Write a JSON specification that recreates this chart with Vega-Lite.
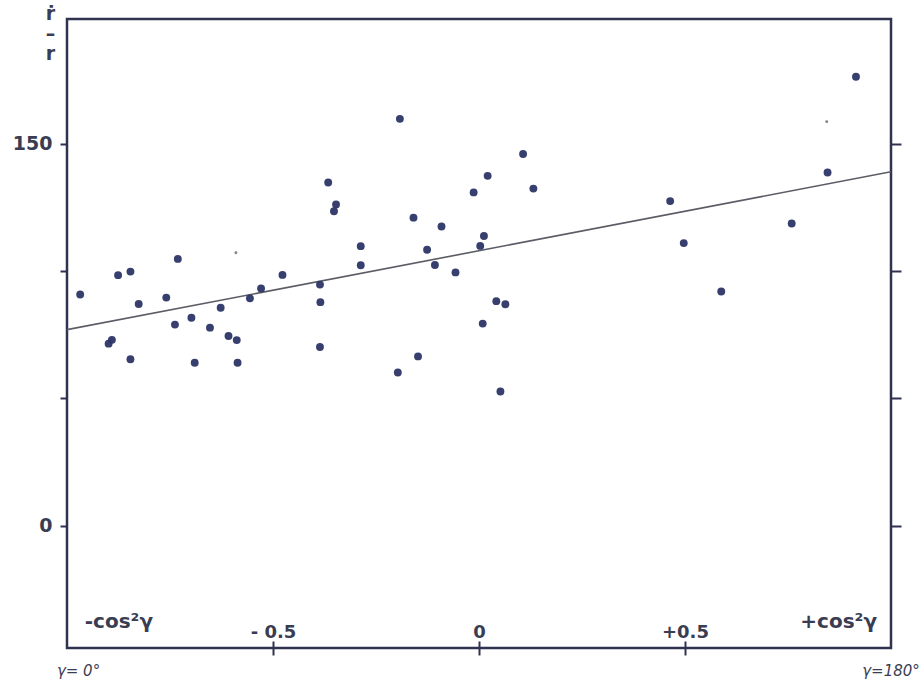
{
  "$schema": "https://vega.github.io/schema/vega-lite/v6.json",
  "width": 824,
  "height": 629,
  "autosize": "none",
  "padding": {"left": 67, "top": 19, "right": 33, "bottom": 33},
  "background": "white",
  "config": {
    "view": {"stroke": "#2f3350", "strokeWidth": 2.5},
    "font": "DejaVu Sans",
    "axis": {"grid": false, "domain": false, "tickColor": "#2f3350", "tickWidth": 2, "labelColor": "#3a3d52", "titleColor": "#3a3d52", "labelFont": "DejaVu Sans", "labelFontWeight": "bold", "labelFontSize": 18}
  },
  "datasets": {
    "fit": [
      {"x": -1, "y": 77},
      {"x": 1, "y": 139}
    ],
    "points": [
      {"x": -0.968, "y": 90.8}, {"x": -0.899, "y": 71.5}, {"x": -0.891, "y": 73.0},
      {"x": -0.876, "y": 98.4}, {"x": -0.846, "y": 99.8}, {"x": -0.846, "y": 65.4},
      {"x": -0.826, "y": 87.1}, {"x": -0.759, "y": 89.6}, {"x": -0.731, "y": 104.8},
      {"x": -0.738, "y": 79.0}, {"x": -0.698, "y": 81.7}, {"x": -0.690, "y": 64.0},
      {"x": -0.653, "y": 77.8}, {"x": -0.627, "y": 85.6}, {"x": -0.608, "y": 74.5},
      {"x": -0.588, "y": 72.9}, {"x": -0.586, "y": 64.0}, {"x": -0.556, "y": 89.3},
      {"x": -0.529, "y": 93.2}, {"x": -0.477, "y": 98.5}, {"x": -0.386, "y": 94.7},
      {"x": -0.385, "y": 87.8}, {"x": -0.386, "y": 70.2}, {"x": -0.366, "y": 134.8},
      {"x": -0.347, "y": 126.2}, {"x": -0.352, "y": 123.5}, {"x": -0.287, "y": 109.8},
      {"x": -0.287, "y": 102.3}, {"x": -0.192, "y": 159.8}, {"x": -0.197, "y": 60.2},
      {"x": -0.148, "y": 66.5}, {"x": -0.159, "y": 121.0}, {"x": -0.126, "y": 108.4},
      {"x": -0.107, "y": 102.4}, {"x": -0.091, "y": 117.5}, {"x": -0.057, "y": 99.5},
      {"x": -0.013, "y": 130.9}, {"x": 0.003, "y": 109.9}, {"x": 0.012, "y": 113.8},
      {"x": 0.021, "y": 137.4}, {"x": 0.009, "y": 79.4}, {"x": 0.042, "y": 88.2},
      {"x": 0.064, "y": 87.0}, {"x": 0.052, "y": 52.7}, {"x": 0.107, "y": 146.0},
      {"x": 0.132, "y": 132.4}, {"x": 0.464, "y": 127.5}, {"x": 0.497, "y": 111.0},
      {"x": 0.588, "y": 92.0}, {"x": 0.759, "y": 118.7}, {"x": 0.846, "y": 138.7},
      {"x": 0.915, "y": 176.3}
    ],
    "specks": [
      {"x": 0.844, "y": 158.7},
      {"x": -0.590, "y": 107.2}
    ],
    "bigNotes": [
      {"x": -0.874, "y": -40, "label": "-cos²γ"},
      {"x": 0.873, "y": -40, "label": "+cos²γ"}
    ],
    "smallNotes": [
      {"x": -0.972, "y": -59, "label": "γ= 0°"},
      {"x": 1.0, "y": -59, "label": "γ=180°"}
    ]
  },
  "layer": [
    {
      "data": {"name": "fit"},
      "mark": {"type": "line", "color": "#5b5c66", "strokeWidth": 1.6, "clip": true},
      "encoding": {
        "x": {
          "field": "x", "type": "quantitative",
          "scale": {"domain": [-1, 1], "nice": false, "zero": false},
          "axis": {
            "orient": "bottom", "values": [-0.5, 0, 0.5], "title": null,
            "labelExpr": "datum.value < 0 ? '- 0.5' : (datum.value > 0 ? '+0.5' : '0')",
            "offset": -7, "tickSize": 14, "labelBaseline": "alphabetic", "labelPadding": -18,
            "labelFlush": false, "labelOverlap": false
          }
        },
        "y": {
          "field": "y", "type": "quantitative",
          "scale": {"domain": [-48, 199], "nice": false, "zero": false},
          "axis": {
            "orient": "left", "values": [0, 50, 100, 150], "tickSize": 7, "labelPadding": 8, "labelFontSize": 19,
            "labelExpr": "datum.value == 0 || datum.value == 150 ? datum.label : ''",
            "title": ["ṙ", "–", "r"], "titleAngle": 0, "titleAlign": "center", "titleBaseline": "top",
            "titleX": -17, "titleY": -15, "titleFontSize": 19, "titleFontWeight": "bold", "titleLineHeight": 20,
            "titleFont": "DejaVu Sans"
          }
        }
      }
    },
    {
      "data": {"name": "points"},
      "mark": {"type": "point", "filled": true, "size": 62, "color": "#2c3566", "opacity": 0.95},
      "encoding": {
        "x": {"field": "x", "type": "quantitative"},
        "y": {
          "field": "y", "type": "quantitative",
          "axis": {"orient": "right", "values": [0, 50, 100, 150], "labels": false, "tickSize": 10, "title": null}
        }
      }
    },
    {
      "data": {"name": "specks"},
      "mark": {"type": "point", "filled": true, "size": 8, "color": "#4a4a55"},
      "encoding": {
        "x": {"field": "x", "type": "quantitative"},
        "y": {"field": "y", "type": "quantitative", "axis": null}
      }
    },
    {
      "data": {"name": "bigNotes"},
      "mark": {"type": "text", "font": "DejaVu Sans", "fontWeight": "bold", "fontSize": 20, "color": "#3a3d52", "align": "center", "baseline": "alphabetic"},
      "encoding": {
        "x": {"field": "x", "type": "quantitative"},
        "y": {"field": "y", "type": "quantitative", "axis": null},
        "text": {"field": "label"}
      }
    },
    {
      "data": {"name": "smallNotes"},
      "mark": {"type": "text", "font": "DejaVu Sans", "fontSize": 15, "fontStyle": "italic", "color": "#3a3d52", "align": "center", "baseline": "alphabetic"},
      "encoding": {
        "x": {"field": "x", "type": "quantitative"},
        "y": {"field": "y", "type": "quantitative", "axis": null},
        "text": {"field": "label"}
      }
    }
  ],
  "resolve": {"axis": {"y": "independent"}}
}
